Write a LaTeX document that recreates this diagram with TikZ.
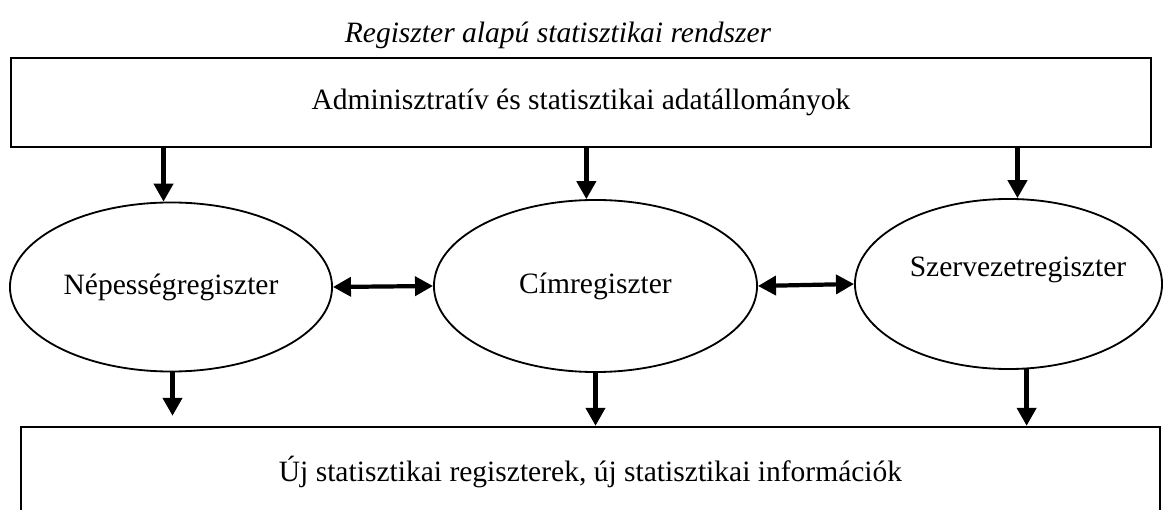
\documentclass[tikz,border=0pt]{standalone}
\usepackage{fontspec}
\setmainfont{Liberation Serif}
\usetikzlibrary{arrows.meta,shapes.geometric}
\tikzset{>={Triangle[length=0.45cm,width=0.47cm]},
         txt/.style={font=\fontsize{21}{25}\selectfont},
         databox/.style={draw,rectangle,line width=1.6pt,txt},
         reg/.style={draw,ellipse,line width=1.3pt,inner sep=0pt,txt},
         flow/.style={->,line width=3.4pt},
         link/.style={<->,line width=3pt}}

\begin{document}
\begin{tikzpicture}[x=0.025cm,y=-0.025cm]
  \clip (0,0) rectangle (1166,510);
  \node[txt,font=\fontsize{21}{25}\selectfont\itshape] (title) at (558,35)
    {Regiszter alapú statisztikai rendszer};
  \node[databox,minimum width=28.5cm,minimum height=2.225cm] (adat) at (581,102.5)
    {Adminisztratív és statisztikai adatállományok};
  \node[reg,minimum width=8.05cm,minimum height=4.225cm] (nep) at (171,287)
    {Népességregiszter};
  \node[reg,minimum width=8.075cm,minimum height=4.3cm] (cim) at (595.5,286)
    {Címregiszter};
  \node[reg,minimum width=7.675cm,minimum height=4.25cm] (szerv) at (1008.5,284) {};
  \node[txt] (szervtxt) at (1018,270) {Szervezetregiszter};
  \node[databox,minimum width=28.475cm,minimum height=2.25cm] (uj) at (590.5,472)
    {Új statisztikai regiszterek, új statisztikai információk};
  \draw[flow] (adat.south -| nep.95) -- (nep.95);
  \draw[flow] (adat.south -| cim.96) -- (cim.96);
  \draw[flow] (adat.south -| szerv.84) -- (szerv.84);
  \draw[link] (nep.east) -- (cim.west);
  \draw[link] (cim.east) -- (szerv.west);
  \draw[flow,shorten >=0.25cm] (nep.-89) -- (nep.-89 |- uj.north);
  \draw[flow] (cim.south) -- (cim.south |- uj.north);
  \draw[flow] (szerv.-78) -- (szerv.-78 |- uj.north);
\end{tikzpicture}
\end{document}
